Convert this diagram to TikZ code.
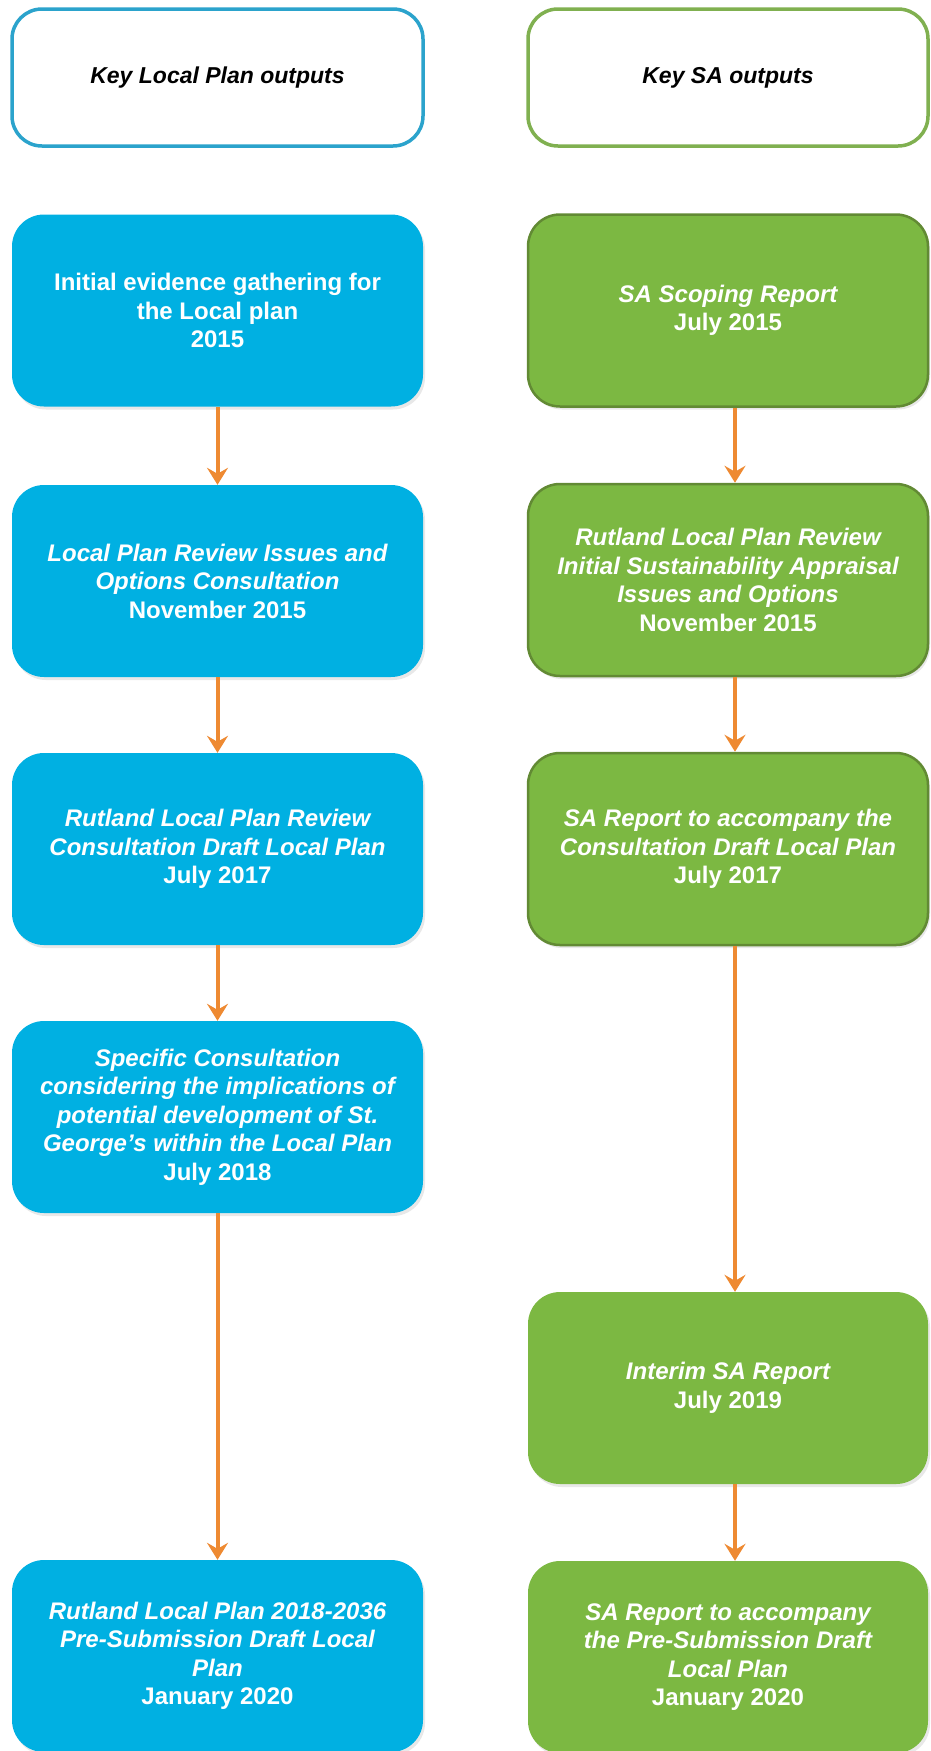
\documentclass[tikz,border=0pt]{standalone}
\usepackage{fontspec}
\setmainfont{Liberation Sans}
\usetikzlibrary{arrows.meta,shadows}
\definecolor{lpblue}{RGB}{0,176,226}
\definecolor{lpline}{RGB}{43,163,204}
\definecolor{sagreen}{RGB}{124,184,66}
\definecolor{saline}{RGB}{98,138,52}
\definecolor{saedge}{RGB}{128,176,80}
\definecolor{flow}{RGB}{238,138,50}
\tikzset{
	head/.style={draw, line width=3.5pt, rounded corners=30pt, fill=white, minimum height=137pt,
		font=\fontsize{23}{28}\selectfont\bfseries\itshape},
	stage/.style={text=white, rounded corners=32pt, minimum height=192pt, align=center,
		font=\fontsize{24}{28.5}\selectfont\bfseries,
		drop shadow={opacity=0.18, shadow xshift=2pt, shadow yshift=-3pt}},
	lpbox/.style={stage, fill=lpblue, minimum width=411pt},
	sabox/.style={stage, fill=sagreen, minimum width=400pt},
	saboxed/.style={sabox, draw=saline, line width=2.5pt},
	flowarrow/.style={flow, line width=4pt, -{Stealth[length=17pt, width=21pt, inset=6pt]}}
}
\begin{document}
\begin{tikzpicture}[x=1pt, y=-1pt]
	\useasboundingbox (0,0) rectangle (930,1751);
	\node[head, draw=lpline, minimum width=411pt] (lphead) at (217.5,77.5) {Key Local Plan outputs};
	\node[head, draw=saedge, minimum width=400pt] (sahead) at (728,77.5) {Key SA outputs};

	\node[lpbox] (lp1) at (217.5,310.5) {Initial evidence gathering for\\the Local plan\\2015};
	\node[lpbox] (lp2) at (217.5,581) {\itshape Local Plan Review Issues and\\\itshape Options Consultation\\November 2015};
	\node[lpbox] (lp3) at (217.5,849) {\itshape Rutland Local Plan Review\\\itshape Consultation Draft Local Plan\\July 2017};
	\node[lpbox] (lp4) at (217.5,1117) {\itshape Specific Consultation\\\itshape considering the implications of\\\itshape potential development of St.\\\itshape George's within the Local Plan\\July 2018};
	\node[lpbox] (lp5) at (217.5,1656) {\itshape Rutland Local Plan 2018-2036\\\itshape Pre-Submission Draft Local\\\itshape Plan\\January 2020};

	\node[saboxed] (sa1) at (728,310.5) {\itshape SA Scoping Report\\July 2015};
	\node[saboxed] (sa2) at (728,580) {\itshape Rutland Local Plan Review\\\itshape Initial Sustainability Appraisal\\\itshape Issues and Options\\November 2015};
	\node[saboxed] (sa3) at (728,849) {\itshape SA Report to accompany the\\\itshape Consultation Draft Local Plan\\July 2017};
	\node[sabox] (sa4) at (728,1388) {\itshape Interim SA Report\\July 2019};
	\node[sabox] (sa5) at (728,1657) {\itshape SA Report to accompany\\\itshape the Pre-Submission Draft\\\itshape Local Plan\\January 2020};

	\draw[flowarrow] (lp1.south) -- (lp2.north);
	\draw[flowarrow] (lp2.south) -- (lp3.north);
	\draw[flowarrow] (lp3.south) -- (lp4.north);
	\draw[flowarrow] (lp4.south) -- (lp5.north);
	\draw[flowarrow] ([xshift=7pt]sa1.south) -- ([xshift=7pt]sa2.north);
	\draw[flowarrow] ([xshift=7pt]sa2.south) -- ([xshift=7pt]sa3.north);
	\draw[flowarrow] ([xshift=7pt]sa3.south) -- ([xshift=7pt]sa4.north);
	\draw[flowarrow] ([xshift=7pt]sa4.south) -- ([xshift=7pt]sa5.north);
\end{tikzpicture}
\end{document}
